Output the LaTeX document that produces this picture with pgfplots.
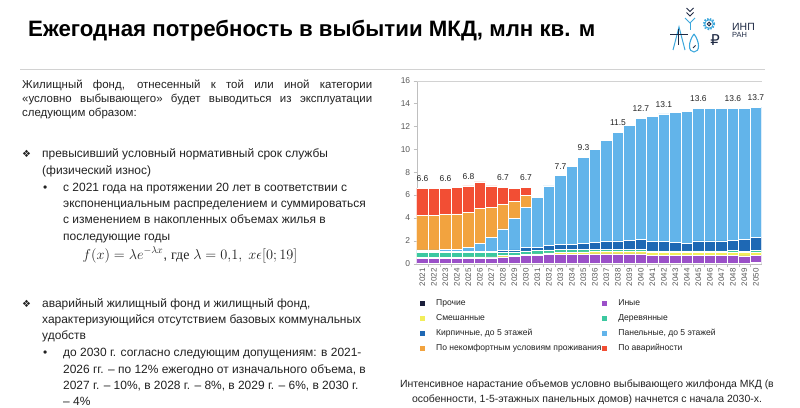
\documentclass[border=0pt]{standalone}
\usepackage{fontspec}
\setmainfont{Liberation Sans}
\newfontfamily\dejavu{DejaVu Sans}
\newfontfamily\serifru{Liberation Serif}
\usepackage{pgfplots}
\usepackage{pgfplotstable}
\pgfplotsset{compat=1.18}
\definecolor{prochie}{HTML}{1B1F3B}
\definecolor{inye}{HTML}{9B50C8}
\definecolor{smesh}{HTML}{F2EE5A}
\definecolor{derev}{HTML}{3CC8A0}
\definecolor{kirp}{HTML}{1E68B4}
\definecolor{panel}{HTML}{62B4EA}
\definecolor{nekomf}{HTML}{F2A33F}
\definecolor{avar}{HTML}{F24E34}
\definecolor{txt}{HTML}{222222}
\definecolor{tick}{HTML}{595959}
\definecolor{navy}{HTML}{1F2A44}
\definecolor{lblue}{HTML}{3BA7DC}

\pgfplotstableread{
x pr in sm de ki pa ne av
0 0.02 0.45 0.10 0.43 0.05 0.15 3.05 2.35
1 0.02 0.45 0.10 0.43 0.05 0.15 3.05 2.35
2 0.02 0.46 0.10 0.42 0.05 0.17 3.08 2.30
3 0.02 0.46 0.10 0.42 0.05 0.20 3.10 2.30
4 0.02 0.47 0.10 0.40 0.06 0.40 3.05 2.30
5 0.02 0.47 0.10 0.38 0.08 0.70 3.10 2.30
6 0.02 0.48 0.10 0.37 0.08 1.25 2.60 1.90
7 0.02 0.58 0.10 0.30 0.15 1.90 2.10 1.55
8 0.02 0.62 0.10 0.30 0.16 2.75 1.50 1.15
9 0.02 0.68 0.12 0.30 0.28 3.55 1.00 0.75
10 0.02 0.72 0.12 0.28 0.26 4.40 0 0
11 0.02 0.78 0.15 0.25 0.40 5.20 0 0
12 0.02 0.80 0.18 0.22 0.48 6.00 0 0
13 0.02 0.82 0.18 0.20 0.48 6.80 0 0
14 0.02 0.82 0.20 0.18 0.58 7.50 0 0
15 0.02 0.83 0.20 0.17 0.63 8.15 0 0
16 0.02 0.83 0.22 0.15 0.73 8.85 0 0
17 0.02 0.83 0.22 0.15 0.78 9.50 0 0
18 0.02 0.83 0.23 0.14 0.83 10.05 0 0
19 0.02 0.83 0.23 0.14 0.88 10.60 0 0
20 0.02 0.68 0.30 0.12 0.83 10.95 0 0
21 0.02 0.68 0.30 0.12 0.83 11.15 0 0
22 0.02 0.68 0.30 0.12 0.73 11.35 0 0
23 0.02 0.68 0.30 0.12 0.68 11.50 0 0
24 0.02 0.68 0.30 0.12 0.88 11.60 0 0
25 0.02 0.68 0.30 0.12 0.88 11.55 0 0
26 0.02 0.68 0.30 0.12 0.88 11.55 0 0
27 0.03 0.68 0.30 0.12 0.92 11.55 0 0
28 0.06 0.62 0.30 0.13 1.04 11.45 0 0
29 0.10 0.62 0.30 0.15 1.13 11.40 0 0
}\data

\pgfplotsset{
  mybar/.style={fill=#1, draw=white, line width=0.6bp,
    legend image code/.code={\fill[#1] (0bp,-2.1bp) rectangle (4.2bp,2.1bp);}},
}

\begin{document}
\begin{tikzpicture}[x=1bp,y=1bp]
\fill[white] (0,0) rectangle (800,407);

% title
\node[anchor=west, inner sep=0] at (28,407-31) {\resizebox{567bp}{!}{\fontsize{20}{24}\selectfont\bfseries Ежегодная потребность в выбытии МКД, млн кв. м}};
\draw[gray!35, line width=0.6bp] (20,407-69) -- (765,407-69);

% logo
\draw[navy, line width=1bp] (686.5,407-8)--(690,407-11.5)--(693.5,407-8);
\draw[navy, line width=1bp] (686.5,407-12.5)--(690,407-16)--(693.5,407-12.5);
\draw[lblue, line width=1bp] (685,407-18)--(690,407-23)--(695,407-18);
\draw[lblue, line width=1bp] (690,407-23)--(690,407-30);
\draw[lblue, line width=2bp, dash pattern=on 1.5bp off 1.3bp] (709,407-24) circle (5.2);
\draw[lblue, line width=0.8bp] (709,407-24) circle (4.2);
\draw[navy, line width=1bp] (709,407-24) circle (1.8);
\node[anchor=center, inner sep=0, text=navy] at (715,407-40) {\dejavu\fontsize{15}{16}\selectfont ₽};
\draw[lblue, line width=1.1bp] (694,407-34) .. controls (688,407-42) and (688,407-52) .. (694,407-52) .. controls (700,407-52) and (700,407-42) .. (694,407-34);
\draw[navy, line width=0.8bp] (693,407-48) -- (695.5,407-45.5);
\draw[lblue, line width=1bp] (673,407-50)--(679,407-27)--(685,407-50);
\draw[navy, line width=1bp] (670,407-35)--(688,407-35);
\draw[navy, line width=1bp] (678,407-29)--(678,407-45);
\node[anchor=base west, inner sep=0, text=navy] at (732,407-30.5) {\fontsize{10.5}{12}\selectfont ИНП};
\node[anchor=base west, inner sep=0, text=navy] at (732,407-37.8) {\fontsize{7.5}{8}\selectfont РАН};

% left text
\begin{scope}[every node/.style={anchor=base west, inner sep=0, text=txt}]
\node[font=\fontsize{11.5}{14}\selectfont] at (22,407-88) {\makebox[350bp][s]{Жилищный фонд, отнесенный к той или иной категории}};
\node[font=\fontsize{11.5}{14}\selectfont] at (22,407-102) {\makebox[350bp][s]{«условно выбывающего» будет выводиться из эксплуатации}};
\node[font=\fontsize{11.5}{14}\selectfont] at (22,407-116) {следующим образом:};

\node[font=\dejavu\fontsize{10}{12}\selectfont] at (22,407-157) {❖};
\node[font=\fontsize{12}{14}\selectfont] at (42,407-157) {превысивший условный нормативный срок службы};
\node[font=\fontsize{12}{14}\selectfont] at (42,407-174) {(физический износ)};
\node[font=\fontsize{12}{14}\selectfont] at (43,407-191) {•};
\node[font=\fontsize{12}{14}\selectfont] at (63,407-191) {с 2021 года на протяжении 20 лет в соответствии с};
\node[font=\fontsize{12}{14}\selectfont] at (63,407-207) {экспоненциальным распределением и суммироваться};
\node[font=\fontsize{12}{14}\selectfont] at (63,407-223) {с изменением в накопленных объемах жилья в};
\node[font=\fontsize{12}{14}\selectfont] at (63,407-240) {последующие годы};
\node[font=\fontsize{14}{16}\selectfont, anchor=base] at (190,407-259) {$f(x) = \lambda e^{-\lambda x}$, {\serifru где} $\lambda = 0{,}1,\ x\epsilon[0;19]$};

\node[font=\dejavu\fontsize{10}{12}\selectfont] at (22,407-307) {❖};
\node[font=\fontsize{12}{14}\selectfont] at (42,407-307) {аварийный жилищный фонд и жилищный фонд,};
\node[font=\fontsize{12}{14}\selectfont] at (42,407-323) {характеризующийся отсутствием базовых коммунальных};
\node[font=\fontsize{12}{14}\selectfont] at (42,407-339) {удобств};
\node[font=\fontsize{12}{14}\selectfont] at (43,407-356) {•};
\node[font=\fontsize{12}{14}\selectfont] at (63,407-356) {до 2030 г. согласно следующим допущениям: в 2021-};
\node[font=\fontsize{12}{14}\selectfont] at (63,407-373) {2026 гг. – по 12\% ежегодно от изначального объема, в};
\node[font=\fontsize{12}{14}\selectfont] at (63,407-389) {2027 г. – 10\%, в 2028 г. – 8\%, в 2029 г. – 6\%, в 2030 г.};
\node[font=\fontsize{12}{14}\selectfont] at (63,407-405) {– 4\%};
\end{scope}

% caption
\node[anchor=base, inner sep=0, text=txt, font=\fontsize{10.5}{12}\selectfont] at (587,407-387) {Интенсивное нарастание объемов условно выбывающего жилфонда МКД (в};
\node[anchor=base, inner sep=0, text=txt, font=\fontsize{10.5}{12}\selectfont] at (587,407-402) {особенности, 1-5-этажных панельных домов) начнется с начала 2030-х.};

\begin{axis}[
  at={(416.7bp,143.3bp)}, anchor=south west, scale only axis,
  width=345bp, height=183bp,
  ybar stacked, bar width=1,
  xmin=-0.5, xmax=29.5, ymin=0, ymax=16,
  ytick={0,2,...,16},
  xtick={0,...,29},
  xticklabels={2021,2022,2023,2024,2025,2026,2027,2028,2029,2030,2031,2032,2033,2034,2035,2036,2037,2038,2039,2040,2041,2042,2043,2044,2045,2046,2047,2048,2049,2050},
  x tick label style={rotate=90, anchor=east, font=\fontsize{8}{8}\selectfont, text=tick, inner sep=1.5bp},
  y tick label style={font=\fontsize{8.5}{9}\selectfont, text=tick},
  /pgf/number format/assume math mode=true,
  axis x line*=bottom, axis y line*=left,
  axis line style={draw=gray!50},
  tick align=outside,
  major tick length=3bp, minor tick length=3bp,
  minor x tick num=1,
  every major x tick/.append style={draw=none},
  every minor x tick/.append style={draw=gray!50},
  ytick style={draw=gray!50},
  extra y ticks={16}, extra y tick labels={},
  extra y tick style={grid=major, major grid style={gray!35}},
  legend columns=2,
  legend cell align=left,
  legend style={at={(0.0096,-0.196)}, anchor=north west, draw=none, fill=none,
    inner sep=0pt, outer sep=0pt,
    font=\fontsize{8.6}{9}\selectfont, text=txt,
    nodes={inner xsep=0.8bp, inner ysep=0bp, text height=6.2bp, text depth=1.8bp},
    row sep=6.8bp,
    /tikz/every odd column/.append style={column sep=10.5bp}},
]
\addplot[mybar=prochie] table[x=x,y=pr] {\data};
\addlegendentry{Прочие}
\addplot[mybar=inye] table[x=x,y=in] {\data};
\addlegendentry{Иные}
\addplot[mybar=smesh] table[x=x,y=sm] {\data};
\addlegendentry{Смешанные}
\addplot[mybar=derev] table[x=x,y=de] {\data};
\addlegendentry{Деревянные}
\addplot[mybar=kirp] table[x=x,y=ki] {\data};
\addlegendentry{Кирпичные, до 5 этажей}
\addplot[mybar=panel] table[x=x,y=pa] {\data};
\addlegendentry{Панельные, до 5 этажей}
\addplot[mybar=nekomf] table[x=x,y=ne] {\data};
\addlegendentry{По некомфортным условиям проживания}
\addplot[mybar=avar] table[x=x,y=av] {\data};
\addlegendentry{По аварийности}
\end{axis}

\begin{axis}[
  at={(416.7bp,143.3bp)}, anchor=south west, scale only axis,
  width=345bp, height=183bp,
  xmin=-0.5, xmax=29.5, ymin=0, ymax=16,
  hide axis, clip=false,
]
\addplot[draw=none, mark=none, nodes near coords, point meta=explicit symbolic,
  nodes near coords style={font=\fontsize{8.5}{9}\selectfont, text=txt, anchor=south, yshift=3bp}]
  coordinates {
  (0,6.6) [6.6] (2,6.6) [6.6] (4,6.8) [6.8] (7,6.7) [6.7] (9,6.7) [6.7]
  (12,7.7) [7.7] (14,9.3) [9.3] (17,11.5) [11.5] (19,12.7) [12.7]
  (21,13.1) [13.1] (24,13.6) [13.6] (27,13.6) [13.6] (29,13.7) [13.7]
  };
\end{axis}
\end{tikzpicture}
\end{document}
